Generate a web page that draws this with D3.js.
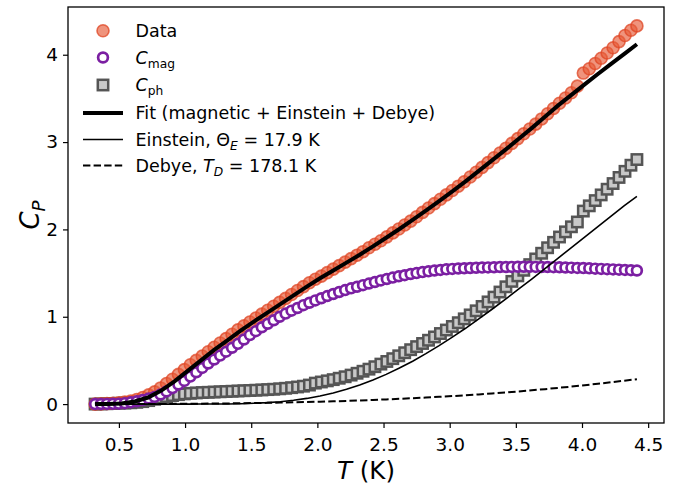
<!DOCTYPE html>
<html>
<head>
<meta charset="utf-8">
<script src="https://cdn.jsdelivr.net/npm/d3@7"></script>
<style>
  body { margin: 0; background: #fff; }
  svg text { font-family: "DejaVu Sans", sans-serif; white-space: pre; }
</style>
</head>
<body>
<svg id="chart" width="689" height="487"></svg>
<script>
// measured points (K)
const temps = [0.32, 0.365, 0.41, 0.455, 0.50, 0.545, 0.59, 0.635, 0.68, 0.725, 0.77, 0.815, 0.86, 0.905, 0.95, 0.995,
  1.04, 1.085, 1.13, 1.175, 1.22, 1.265, 1.31, 1.355, 1.40, 1.445, 1.49, 1.535, 1.58, 1.625, 1.67, 1.715, 1.76, 1.805,
  1.85, 1.895, 1.94, 1.985, 2.03, 2.075, 2.12, 2.165, 2.21, 2.255, 2.30, 2.345, 2.39, 2.435, 2.48, 2.525, 2.57, 2.615,
  2.66, 2.705, 2.75, 2.795, 2.84, 2.885, 2.93, 2.975, 3.02, 3.065, 3.11, 3.155, 3.20, 3.245, 3.29, 3.335, 3.38, 3.425,
  3.47, 3.515, 3.56, 3.605, 3.65, 3.695, 3.74, 3.785, 3.83, 3.875, 3.92, 3.965, 4.01, 4.055, 4.10, 4.145, 4.19, 4.235,
  4.28, 4.325, 4.37, 4.415]

const cpData = [0.000, 0.003, 0.006, 0.010, 0.015, 0.022, 0.035, 0.052, 0.075, 0.105, 0.14, 0.185, 0.235, 0.285, 0.34, 0.395,
  0.45, 0.50, 0.55, 0.60, 0.65, 0.70, 0.75, 0.80, 0.85, 0.895, 0.94, 0.985, 1.03, 1.075, 1.12, 1.165, 1.21, 1.255,
  1.30, 1.345, 1.39, 1.43, 1.465, 1.505, 1.545, 1.585, 1.625, 1.665, 1.705, 1.745, 1.79, 1.83, 1.87, 1.915, 1.96, 2.005,
  2.05, 2.095, 2.145, 2.195, 2.245, 2.295, 2.345, 2.395, 2.445, 2.495, 2.545, 2.60, 2.655, 2.71, 2.765, 2.82, 2.875, 2.93,
  2.985, 3.04, 3.095, 3.15, 3.205, 3.265, 3.325, 3.385, 3.445, 3.505, 3.565, 3.64, 3.79, 3.84, 3.90, 3.96, 4.02, 4.08,
  4.15, 4.22, 4.28, 4.33]

const cMag = [0.000, 0.001, 0.002, 0.003, 0.005, 0.011, 0.020, 0.032, 0.047, 0.064, 0.082, 0.110, 0.145, 0.183, 0.224, 0.265,
  0.315, 0.365, 0.414, 0.464, 0.510, 0.555, 0.600, 0.645, 0.690, 0.740, 0.790, 0.835, 0.880, 0.920, 0.960, 1.000, 1.036, 1.070,
  1.100, 1.133, 1.160, 1.187, 1.212, 1.237, 1.260, 1.283, 1.305, 1.325, 1.344, 1.362, 1.380, 1.398, 1.416, 1.432, 1.448, 1.463,
  1.476, 1.489, 1.500, 1.511, 1.520, 1.529, 1.536, 1.543, 1.548, 1.552, 1.555, 1.558, 1.561, 1.563, 1.565, 1.567, 1.569, 1.570,
  1.571, 1.572, 1.572, 1.572, 1.571, 1.570, 1.569, 1.568, 1.566, 1.564, 1.562, 1.559, 1.557, 1.554, 1.551, 1.548, 1.545, 1.542,
  1.539, 1.536, 1.533, 1.530]

const cPh = [0.000, 0.002, 0.004, 0.007, 0.010, 0.012, 0.015, 0.020, 0.028, 0.040, 0.055, 0.072, 0.086, 0.098, 0.108, 0.117,
  0.123, 0.128, 0.132, 0.135, 0.138, 0.141, 0.144, 0.147, 0.150, 0.153, 0.156, 0.159, 0.162, 0.166, 0.170, 0.175, 0.181, 0.188,
  0.196, 0.205, 0.218, 0.240, 0.253, 0.266, 0.280, 0.296, 0.313, 0.332, 0.353, 0.376, 0.400, 0.428, 0.458, 0.488, 0.520, 0.553,
  0.588, 0.623, 0.658, 0.694, 0.731, 0.769, 0.808, 0.848, 0.889, 0.932, 0.976, 1.021, 1.068, 1.118, 1.170, 1.225, 1.283, 1.343,
  1.405, 1.468, 1.532, 1.597, 1.662, 1.727, 1.790, 1.852, 1.913, 1.972, 2.030, 2.085, 2.210, 2.270, 2.330, 2.395, 2.460, 2.525,
  2.595, 2.665, 2.735, 2.800]

// model curves
const lineT = [0.32, 0.42, 0.52, 0.62, 0.72, 0.82, 0.92, 1.02, 1.12, 1.22, 1.32, 1.42, 1.52, 1.62, 1.72, 1.82, 1.92, 2.02,
  2.12, 2.22, 2.32, 2.42, 2.52, 2.62, 2.72, 2.82, 2.92, 3.02, 3.12, 3.22, 3.32, 3.42, 3.52, 3.62, 3.72, 3.82, 3.92, 4.02,
  4.12, 4.22, 4.32, 4.415]

const fitLine = [0.00, 0.002, 0.008, 0.03, 0.075, 0.155, 0.26, 0.38, 0.50, 0.62, 0.73, 0.84, 0.945, 1.045, 1.145, 1.245,
  1.345, 1.44, 1.53, 1.62, 1.71, 1.805, 1.905, 2.005, 2.11, 2.215, 2.325, 2.435, 2.55, 2.67, 2.79, 2.91, 3.035, 3.16, 3.29,
  3.42, 3.54, 3.66, 3.78, 3.895, 4.01, 4.12]

const einstein = [0, 0, 0, 0, 0, 0, 0, 0.0001, 0.0003, 0.0007, 0.0015, 0.0046, 0.009, 0.0165, 0.0276, 0.0436, 0.065, 0.0926,
  0.127, 0.169, 0.218, 0.276, 0.340, 0.413, 0.491, 0.578, 0.670, 0.767, 0.868, 0.975, 1.086, 1.198, 1.315, 1.431, 1.552,
  1.672, 1.792, 1.911, 2.032, 2.151, 2.272, 2.378]

const debye = [0.0001, 0.0002, 0.0005, 0.0008, 0.0013, 0.0019, 0.0027, 0.0036, 0.0048, 0.0061, 0.0078, 0.0097, 0.0118,
  0.0143, 0.0171, 0.0202, 0.0237, 0.0276, 0.0319, 0.0366, 0.0417, 0.0474, 0.0534, 0.0600, 0.0672, 0.0748, 0.0830, 0.0918,
  0.1012, 0.1112, 0.1219, 0.1332, 0.1452, 0.1579, 0.1713, 0.1854, 0.2003, 0.2160, 0.2325, 0.2498, 0.2680, 0.285]

const xTicks = [0.5, 1.0, 1.5, 2.0, 2.5, 3.0, 3.5, 4.0, 4.5]
const yTicks = [0, 1, 2, 3, 4]


const width = 689, height = 487
const margin = { top: 7, right: 25, bottom: 64, left: 68 }
const svg = d3.select('#chart')

// matplotlib style 5% autoscale margins
const pad = ([a, b]) => [a - (b - a) * 0.05, b + (b - a) * 0.05]
const allY = [...cpData, ...cMag, ...cPh, ...fitLine, ...einstein, ...debye]

const x = d3.scaleLinear().domain(pad(d3.extent(temps))).range([margin.left, width - margin.right])
const y = d3.scaleLinear().domain(pad(d3.extent(allY))).range([height - margin.bottom, margin.top])

const orange = { fill: '#e65a38', stroke: '#df4624' }
const purple = '#7b1fa2'

const drawSquare = (sel, size) => sel
  .attr('width', size).attr('height', size)
  .attr('fill', '#c8c8c8').attr('stroke', '#555').attr('stroke-width', 2.5)

const drawData = sel => sel
  .attr('r', 6)
  .attr('fill', orange.fill).attr('fill-opacity', 0.65)
  .attr('stroke', orange.stroke).attr('stroke-opacity', 0.75).attr('stroke-width', 1.6)

const drawMag = sel => sel
  .attr('r', 4.9)
  .attr('fill', '#fff').attr('stroke', purple).attr('stroke-width', 2.7)

const plot = svg.append('g')

plot.append('g').selectAll('rect').data(cPh).join('rect')
  .attr('x', (d, i) => x(temps[i]) - 5.2).attr('y', d => y(d) - 5.2)
  .call(drawSquare, 10.4)

plot.append('g').selectAll('circle').data(cpData).join('circle')
  .attr('cx', (d, i) => x(temps[i])).attr('cy', d => y(d))
  .call(drawData)

plot.append('g').selectAll('circle').data(cMag).join('circle')
  .attr('cx', (d, i) => x(temps[i])).attr('cy', d => y(d))
  .call(drawMag)

const line = d3.line().x((d, i) => x(lineT[i])).y(d => y(d))

plot.append('path').datum(fitLine).attr('d', line)
  .attr('fill', 'none').attr('stroke', '#000').attr('stroke-width', 4)
plot.append('path').datum(einstein).attr('d', line)
  .attr('fill', 'none').attr('stroke', '#000').attr('stroke-width', 1.6)
plot.append('path').datum(debye).attr('d', line)
  .attr('fill', 'none').attr('stroke', '#000').attr('stroke-width', 2).attr('stroke-dasharray', '7.4,3.2')


// axes
const styleAxis = g => g
  .attr('font-family', '"DejaVu Sans", sans-serif').attr('font-size', 18.5)
  .call(g => g.select('.domain').remove())
  .call(g => g.selectAll('.tick line').attr('stroke', '#000').attr('stroke-width', 1.2))
  .call(g => g.selectAll('.tick text').attr('fill', '#000'))

svg.append('g').attr('transform', `translate(0,${height - margin.bottom})`)
  .call(d3.axisBottom(x).tickValues(xTicks).tickFormat(d3.format('.1f')).tickSize(5).tickPadding(10))
  .call(styleAxis)

svg.append('g').attr('transform', `translate(${margin.left},0)`)
  .call(d3.axisLeft(y).tickValues(yTicks).tickFormat(d3.format('d')).tickSize(5).tickPadding(5))
  .call(styleAxis)

svg.append('rect')
  .attr('x', margin.left).attr('y', margin.top)
  .attr('width', width - margin.left - margin.right).attr('height', height - margin.top - margin.bottom)
  .attr('fill', 'none').attr('stroke', '#000').attr('stroke-width', 1.3)


// mathtext-ish labels: parts with italic / subscript flags
const mathText = (text, parts, size) => {
  let shift = 0
  parts.forEach(p => {
    const s = p.sub ? size * 0.22 : 0
    text.append('tspan')
      .attr('dy', s - shift)
      .attr('font-size', p.sub ? size * 0.7 : size)
      .attr('font-style', p.it ? 'italic' : 'normal')
      .text(p.t)
    shift = s
  })
}

const xLabel = svg.append('text').attr('x', (margin.left + width - margin.right) / 2).attr('y', 479)
  .attr('text-anchor', 'middle').attr('fill', '#000')
mathText(xLabel, [{ t: 'T', it: true }, { t: ' (K)' }], 24.5)

const yLabel = svg.append('text')
  .attr('transform', `translate(39,${(margin.top + height - margin.bottom) / 2}) rotate(-90)`)
  .attr('text-anchor', 'middle').attr('fill', '#000')
mathText(yLabel, [{ t: 'C', it: true }, { t: 'P', it: true, sub: true }], 26)


// legend
const legendRows = [
  { y: 30.7, kind: 'data', parts: [{ t: 'Data' }] },
  { y: 57.5, kind: 'mag', parts: [{ t: 'C', it: true }, { t: 'mag', sub: true }] },
  { y: 85, kind: 'ph', parts: [{ t: 'C', it: true }, { t: 'ph', sub: true }] },
  { y: 113, kind: 'fit', parts: [{ t: 'Fit (magnetic + Einstein + Debye)' }] },
  { y: 139.5, kind: 'einstein', parts: [{ t: 'Einstein, Θ' }, { t: 'E', it: true, sub: true }, { t: ' = 17.9 K' }] },
  { y: 165.5, kind: 'debye', parts: [{ t: 'Debye, ' }, { t: 'T', it: true }, { t: 'D', it: true, sub: true }, { t: ' = 178.1 K' }] },
]

const legend = svg.append('g')
const mx = 103, lx0 = 83, lx1 = 123, tx = 135.5, fs = 17.5

legendRows.forEach(r => {
  const g = legend.append('g')
  if (r.kind === 'data') g.append('circle').attr('cx', mx).attr('cy', r.y).call(drawData)
  if (r.kind === 'mag') g.append('circle').attr('cx', mx).attr('cy', r.y).call(drawMag)
  if (r.kind === 'ph') g.append('rect').attr('x', mx - 5.2).attr('y', r.y - 5.2).call(drawSquare, 10.4)
  if (['fit', 'einstein', 'debye'].includes(r.kind)) {
    g.append('line').attr('x1', lx0).attr('x2', lx1).attr('y1', r.y).attr('y2', r.y)
      .attr('stroke', '#000')
      .attr('stroke-width', r.kind === 'fit' ? 4 : r.kind === 'einstein' ? 1.6 : 2)
      .attr('stroke-dasharray', r.kind === 'debye' ? '7.4,3.2' : null)
  }
  const t = g.append('text').attr('x', tx).attr('y', r.y + fs * 0.365).attr('fill', '#000')
  mathText(t, r.parts, fs)
})
</script>
</body>
</html>
